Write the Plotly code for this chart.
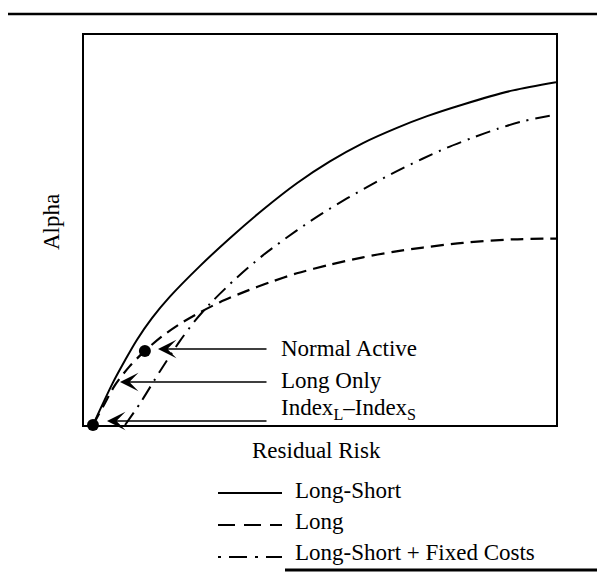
import plotly.graph_objects as go

# ---- data (axes are unitless 0-100) ----
long_short_x = [1.9, 6.1, 8.7, 11.2, 14.4, 18.2, 24.6, 30.9, 37.9, 45.1, 52.1,
                59.1, 66.3, 72.7, 80.3, 90.9, 100]
long_short_y = [0, 10.8, 16.6, 21.8, 27.4, 32.9, 40.8, 47.9, 55.2, 62.0, 67.6,
                72.3, 76.2, 79.2, 82.2, 85.8, 87.9]

long_x = [1.9, 4.2, 6.6, 9.7, 12.9, 16.5, 20.3, 24.6, 28.8, 34.1, 39.4, 45.1, 52.1,
          59.1, 65.5, 71.8, 80.3, 90.9, 100]
long_y = [0, 5.1, 10.3, 15.1, 19.0, 22.7, 25.9, 28.9, 31.5, 34.2, 36.6, 38.9, 41.1,
          43.0, 44.4, 45.5, 46.7, 47.6, 47.8]

fixed_x = [8.7, 11.9, 16.1, 20.3, 23.5, 26.7, 32.4, 37.9, 45.1, 50.4, 55.7, 61.0,
           66.3, 71.6, 76.9, 82.2, 87.5, 93.0, 100]
fixed_y = [0, 5.6, 13.8, 21.5, 26.7, 31.1, 37.8, 43.5, 49.9, 54.2, 58.1, 61.7,
           65.1, 68.2, 71.1, 73.6, 75.9, 77.9, 79.6]

point_names = ["Normal Active", "Long Only", "Index<sub>L</sub>\u2013Index<sub>S</sub>"]
dot_x = [1.9, 12.9]                  # black dots (origin, Normal Active)
dot_y = [0.0, 19.0]

legend_names = ["Long-Short", "Long", "Long-Short + Fixed Costs"]

FONT = "Liberation Serif"
W, H = 605, 574
OFF = 8                          # default page margin of the html body
L, R, T, B = 84, 556, 35, 425    # plot area in page pixels


def px(xp):
    return (xp - L) / (R - L)


def py(yp):
    return (B - yp) / (B - T)


fig = go.Figure()
fig.add_trace(go.Scatter(x=long_short_x, y=long_short_y, mode="lines",
                         line=dict(color="black", width=2, shape="spline", smoothing=0.8)))
fig.add_trace(go.Scatter(x=long_x, y=long_y, mode="lines",
                         line=dict(color="black", width=2.2, shape="spline", smoothing=0.8,
                                   dash="13px,7px")))
fig.add_trace(go.Scatter(x=fixed_x, y=fixed_y, mode="lines",
                         line=dict(color="black", width=2, shape="spline", smoothing=0.8,
                                   dash="15px,7px,2px,7px")))
fig.add_trace(go.Scatter(x=dot_x, y=dot_y, mode="markers",
                         marker=dict(color="black", size=12), cliponaxis=False))

annotations = []
shapes = []
# arrows with labels
label_y_px = [348, 380, 409]
arrow_y_px = [349, 382, 421]
tip_x_px = [158, 120, 107]
for name, lyp, ayp, txp in zip(point_names, label_y_px, arrow_y_px, tip_x_px):
    annotations.append(dict(xref="paper", yref="paper", x=px(txp), y=py(ayp),
                            axref="pixel", ayref="pixel", ax=268 - txp, ay=0,
                            text="", showarrow=True, arrowhead=3, arrowsize=2.2,
                            arrowwidth=1.4, arrowcolor="black", standoff=0))
    annotations.append(dict(xref="paper", yref="paper", x=px(279), y=py(lyp),
                            xanchor="left", yanchor="middle", text=name, showarrow=False,
                            font=dict(family=FONT, size=23, color="black")))

# axis titles
annotations.append(dict(xref="paper", yref="paper", x=px(52), y=py(222), text="Alpha",
                        textangle=-90, showarrow=False, xanchor="center", yanchor="middle",
                        font=dict(family=FONT, size=23, color="black")))
annotations.append(dict(xref="paper", yref="paper", x=px(316), y=py(450),
                        text="Residual Risk", showarrow=False,
                        xanchor="center", yanchor="middle",
                        font=dict(family=FONT, size=23, color="black")))

# manual legend
dashes = ["solid", "17px,9px", "3px,8px,18px,8px"]
leg_line_y = [493, 525, 557]
leg_text_y = [490, 521, 552]
for name, d, ly, ty in zip(legend_names, dashes, leg_line_y, leg_text_y):
    shapes.append(dict(type="line", xref="paper", yref="paper", x0=px(218), x1=px(282),
                       y0=py(ly), y1=py(ly), line=dict(color="black", width=2, dash=d)))
    annotations.append(dict(xref="paper", yref="paper", x=px(293), y=py(ty),
                            xanchor="left", yanchor="middle", text=name, showarrow=False,
                            font=dict(family=FONT, size=23, color="black")))

# page rules
shapes.append(dict(type="line", xref="paper", yref="paper", x0=px(8), x1=px(600),
                   y0=py(14), y1=py(14), line=dict(color="black", width=2.5)))
shapes.append(dict(type="line", xref="paper", yref="paper", x0=px(285), x1=px(605),
                   y0=py(570), y1=py(570), line=dict(color="black", width=3)))

axis_common = dict(range=[0, 100], showgrid=False, zeroline=False, showticklabels=False,
                   ticks="", showline=True, linecolor="black", linewidth=2, mirror=True,
                   fixedrange=True)
fig.update_layout(
    width=W - OFF, height=H - OFF,
    margin=dict(l=L - OFF, r=W - R, t=T - OFF, b=H - B, pad=0),
    paper_bgcolor="white", plot_bgcolor="white",
    showlegend=False,
    xaxis=axis_common, yaxis=axis_common,
    annotations=annotations, shapes=shapes,
)
fig.write_html("out.html")
